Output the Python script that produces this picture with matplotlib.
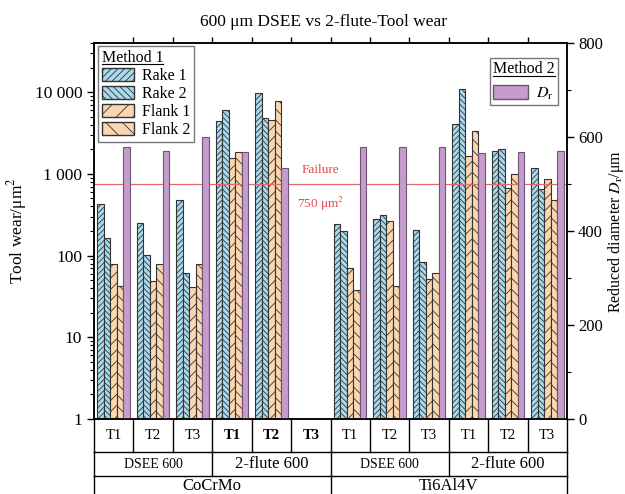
import numpy as np
import matplotlib.pyplot as plt
from matplotlib.patches import Patch
from matplotlib.lines import Line2D
from matplotlib.ticker import FixedLocator, LogLocator, NullFormatter, MultipleLocator
import matplotlib.transforms as mtransforms

plt.rcParams['font.family'] = ['Liberation Serif', 'DejaVu Serif']
plt.rcParams['mathtext.fontset'] = 'stix'
plt.rcParams['hatch.linewidth'] = 0.6

# tool wear (um^2) per test, CoCrMo then Ti6Al4V; DSEE 600 and 2-flute 600, T1..T3
tests = ['T1', 'T2', 'T3'] * 4
tools = ['DSEE 600', '2-flute 600', 'DSEE 600', '2-flute 600']
materials = ['CoCrMo', 'Ti6Al4V']
rake1 = [430, 252, 478, 4500, 9800, np.nan, 243, 277, 205, 4100, 1900, 1170]
rake2 = [162, 101, 62, 6100, 4850, np.nan, 199, 310, 84, 11000, 1990, 645]
flank1 = [80, 49, 41, 1550, 4600, np.nan, 70, 265, 51, 1650, 664, 855]
flank2 = [43, 80, 79, 1850, 7700, np.nan, 38, 43, 61, 3360, 1010, 477]
d_r = [578, 571, 599, 568, 535, np.nan, 578, 578, 578, 565, 567, 570]
failure = 750

blue = '#a9d9ec'
peach = '#fbd6ae'
purple = '#c59ccb'
edge = '#333333'

fig = plt.figure(figsize=(6.25, 4.94), dpi=100)
ax = fig.add_axes([0.1504, 0.1518, 0.7568, 0.7612])
ax2 = ax.twinx()

x = np.arange(len(tests))
w = 0.165
ax.set_yscale('log')
ax.bar(x - 2 * w, rake1, w, color=blue, edgecolor=edge, hatch='//////', lw=0.8)
ax.bar(x - w, rake2, w, color=blue, edgecolor=edge, hatch='\\\\\\\\\\\\', lw=0.8)
ax.bar(x, flank1, w, color=peach, edgecolor=edge, hatch='///', lw=0.8)
ax.bar(x + w, flank2, w, color=peach, edgecolor=edge, hatch='\\\\\\', lw=0.8)
ax2.bar(x + 2 * w, d_r, w, color=purple, edgecolor='#6e5474', lw=0.8)

ax.axhline(failure, color='#e46a6a', lw=0.9)
ax.text(5.25, 930, 'Failure', color='#e8474a', fontsize=9.5, ha='center', va='bottom')
ax.text(5.25, 560, '750 μm$^2$', color='#e8474a', fontsize=9.5, ha='center', va='top')

ax.set_xlim(-0.5, 11.5)
ax.set_ylim(1, 4e4)
ax2.set_ylim(0, 800)

ax.yaxis.set_major_locator(FixedLocator([1, 10, 100, 1000, 10000]))
ax.set_yticklabels(['1', '10', '100', '1 000', '10 000'])
ax.yaxis.set_minor_locator(LogLocator(base=10, subs=np.arange(2, 10)))
ax.yaxis.set_minor_formatter(NullFormatter())
ax.tick_params(axis='y', which='major', direction='out', length=5, width=1, labelsize=12.5)
ax.tick_params(axis='y', which='minor', direction='out', length=3, width=0.8)

ax.set_xticks(np.arange(0.5, 11, 1))
ax.tick_params(axis='x', which='both', top=True, bottom=False, labelbottom=False,
               direction='out', length=4, width=1)

ax2.yaxis.set_major_locator(MultipleLocator(200))
ax2.yaxis.set_minor_locator(MultipleLocator(100))
ax2.tick_params(axis='y', which='major', direction='out', length=5, width=1, labelsize=12,
                pad=3)
ax2.tick_params(axis='y', which='minor', direction='out', length=3, width=0.8)

for a in (ax, ax2):
    for s in a.spines.values():
        s.set_linewidth(1.1)

ax.set_ylabel('Tool wear/μm$^2$', fontsize=12.5, labelpad=4)
ax2.set_ylabel('Reduced diameter $D_\\mathrm{r}$/μm', fontsize=11.5, labelpad=2)
fig.text(0.518, 0.972, '600 μm DSEE vs 2-flute-Tool wear', ha='center', va='top', fontsize=12.5)

# legends
h1 = [Patch(facecolor=blue, edgecolor=edge, hatch='/////', label='Rake 1'),
      Patch(facecolor=blue, edgecolor=edge, hatch='\\\\\\\\\\', label='Rake 2'),
      Patch(facecolor=peach, edgecolor=edge, hatch='//', label='Flank 1'),
      Patch(facecolor=peach, edgecolor=edge, hatch='\\\\', label='Flank 2')]
leg1 = ax2.legend(handles=h1, title='Method 1', loc='upper left', bbox_to_anchor=(0.008, 0.992),
                  fontsize=11.5, title_fontsize=11.5, handlelength=2.0, handleheight=0.95,
                  labelspacing=0.1, handletextpad=0.5, borderpad=0.25, borderaxespad=0,
                  fancybox=False, framealpha=1, edgecolor='#777777')
leg1._legend_box.align = 'left'
ax2.add_artist(leg1)
h2 = [Patch(facecolor=purple, edgecolor='#6e5474', label='$D_\\mathrm{r}$')]
leg2 = ax2.legend(handles=h2, title='Method 2', loc='upper right', bbox_to_anchor=(0.981, 0.96),
                  fontsize=11.5, title_fontsize=11.5, handlelength=2.2, handleheight=0.95,
                  handletextpad=0.5, borderpad=0.2, borderaxespad=0,
                  fancybox=False, framealpha=1, edgecolor='#777777')
leg2._legend_box.align = 'left'
for lg in (leg1, leg2):
    lg.get_frame().set_linewidth(1.0)

# underline legend titles
fig.canvas.draw()
inv = fig.transFigure.inverted()
for lg in (leg1, leg2):
    bb = lg.get_title().get_window_extent()
    (x0, y0), (x1, _) = inv.transform([(bb.x0, bb.y0 + 1.5), (bb.x1, bb.y0 + 1.5)])
    fig.add_artist(Line2D([x0, x1], [y0, y0], color='black', lw=0.8, transform=fig.transFigure))

# category table under the x axis
trans = mtransforms.blended_transform_factory(ax.transData, fig.transFigure)
y_axis = 0.1518
y_r1 = 1 - 452 / 494
y_r2 = 1 - 476 / 494
lk = dict(color='black', lw=1.0, transform=trans, clip_on=False)
for yy in (y_r1, y_r2):
    fig.add_artist(Line2D([-0.5, 11.5], [yy, yy], **lk))
for b in np.arange(-0.5, 12, 1):
    fig.add_artist(Line2D([b, b], [y_axis, y_r1], **lk))
for b in (-0.5, 2.5, 5.5, 8.5, 11.5):
    fig.add_artist(Line2D([b, b], [y_r1, y_r2], **lk))
for b in (-0.5, 5.5, 11.5):
    fig.add_artist(Line2D([b, b], [y_r2, -0.01], **lk))

for i, t in enumerate(tests):
    fw = 'bold' if 3 <= i <= 5 else 'normal'
    fig.text(i, (y_axis + y_r1) / 2, t, transform=trans, ha='center', va='center',
             fontsize=10.5, fontweight=fw)
for j, t in enumerate(tools):
    fs = 10 if t.startswith('DSEE') else 12
    fig.text(3 * j + 1, (y_r1 + y_r2) / 2, t, transform=trans, ha='center', va='center', fontsize=fs)
for k, t in enumerate(materials):
    fig.text(6 * k + 2.5, y_r2 / 2 - 0.002, t, transform=trans, ha='center', va='center', fontsize=12)

fig.savefig('out.png', dpi=100)
